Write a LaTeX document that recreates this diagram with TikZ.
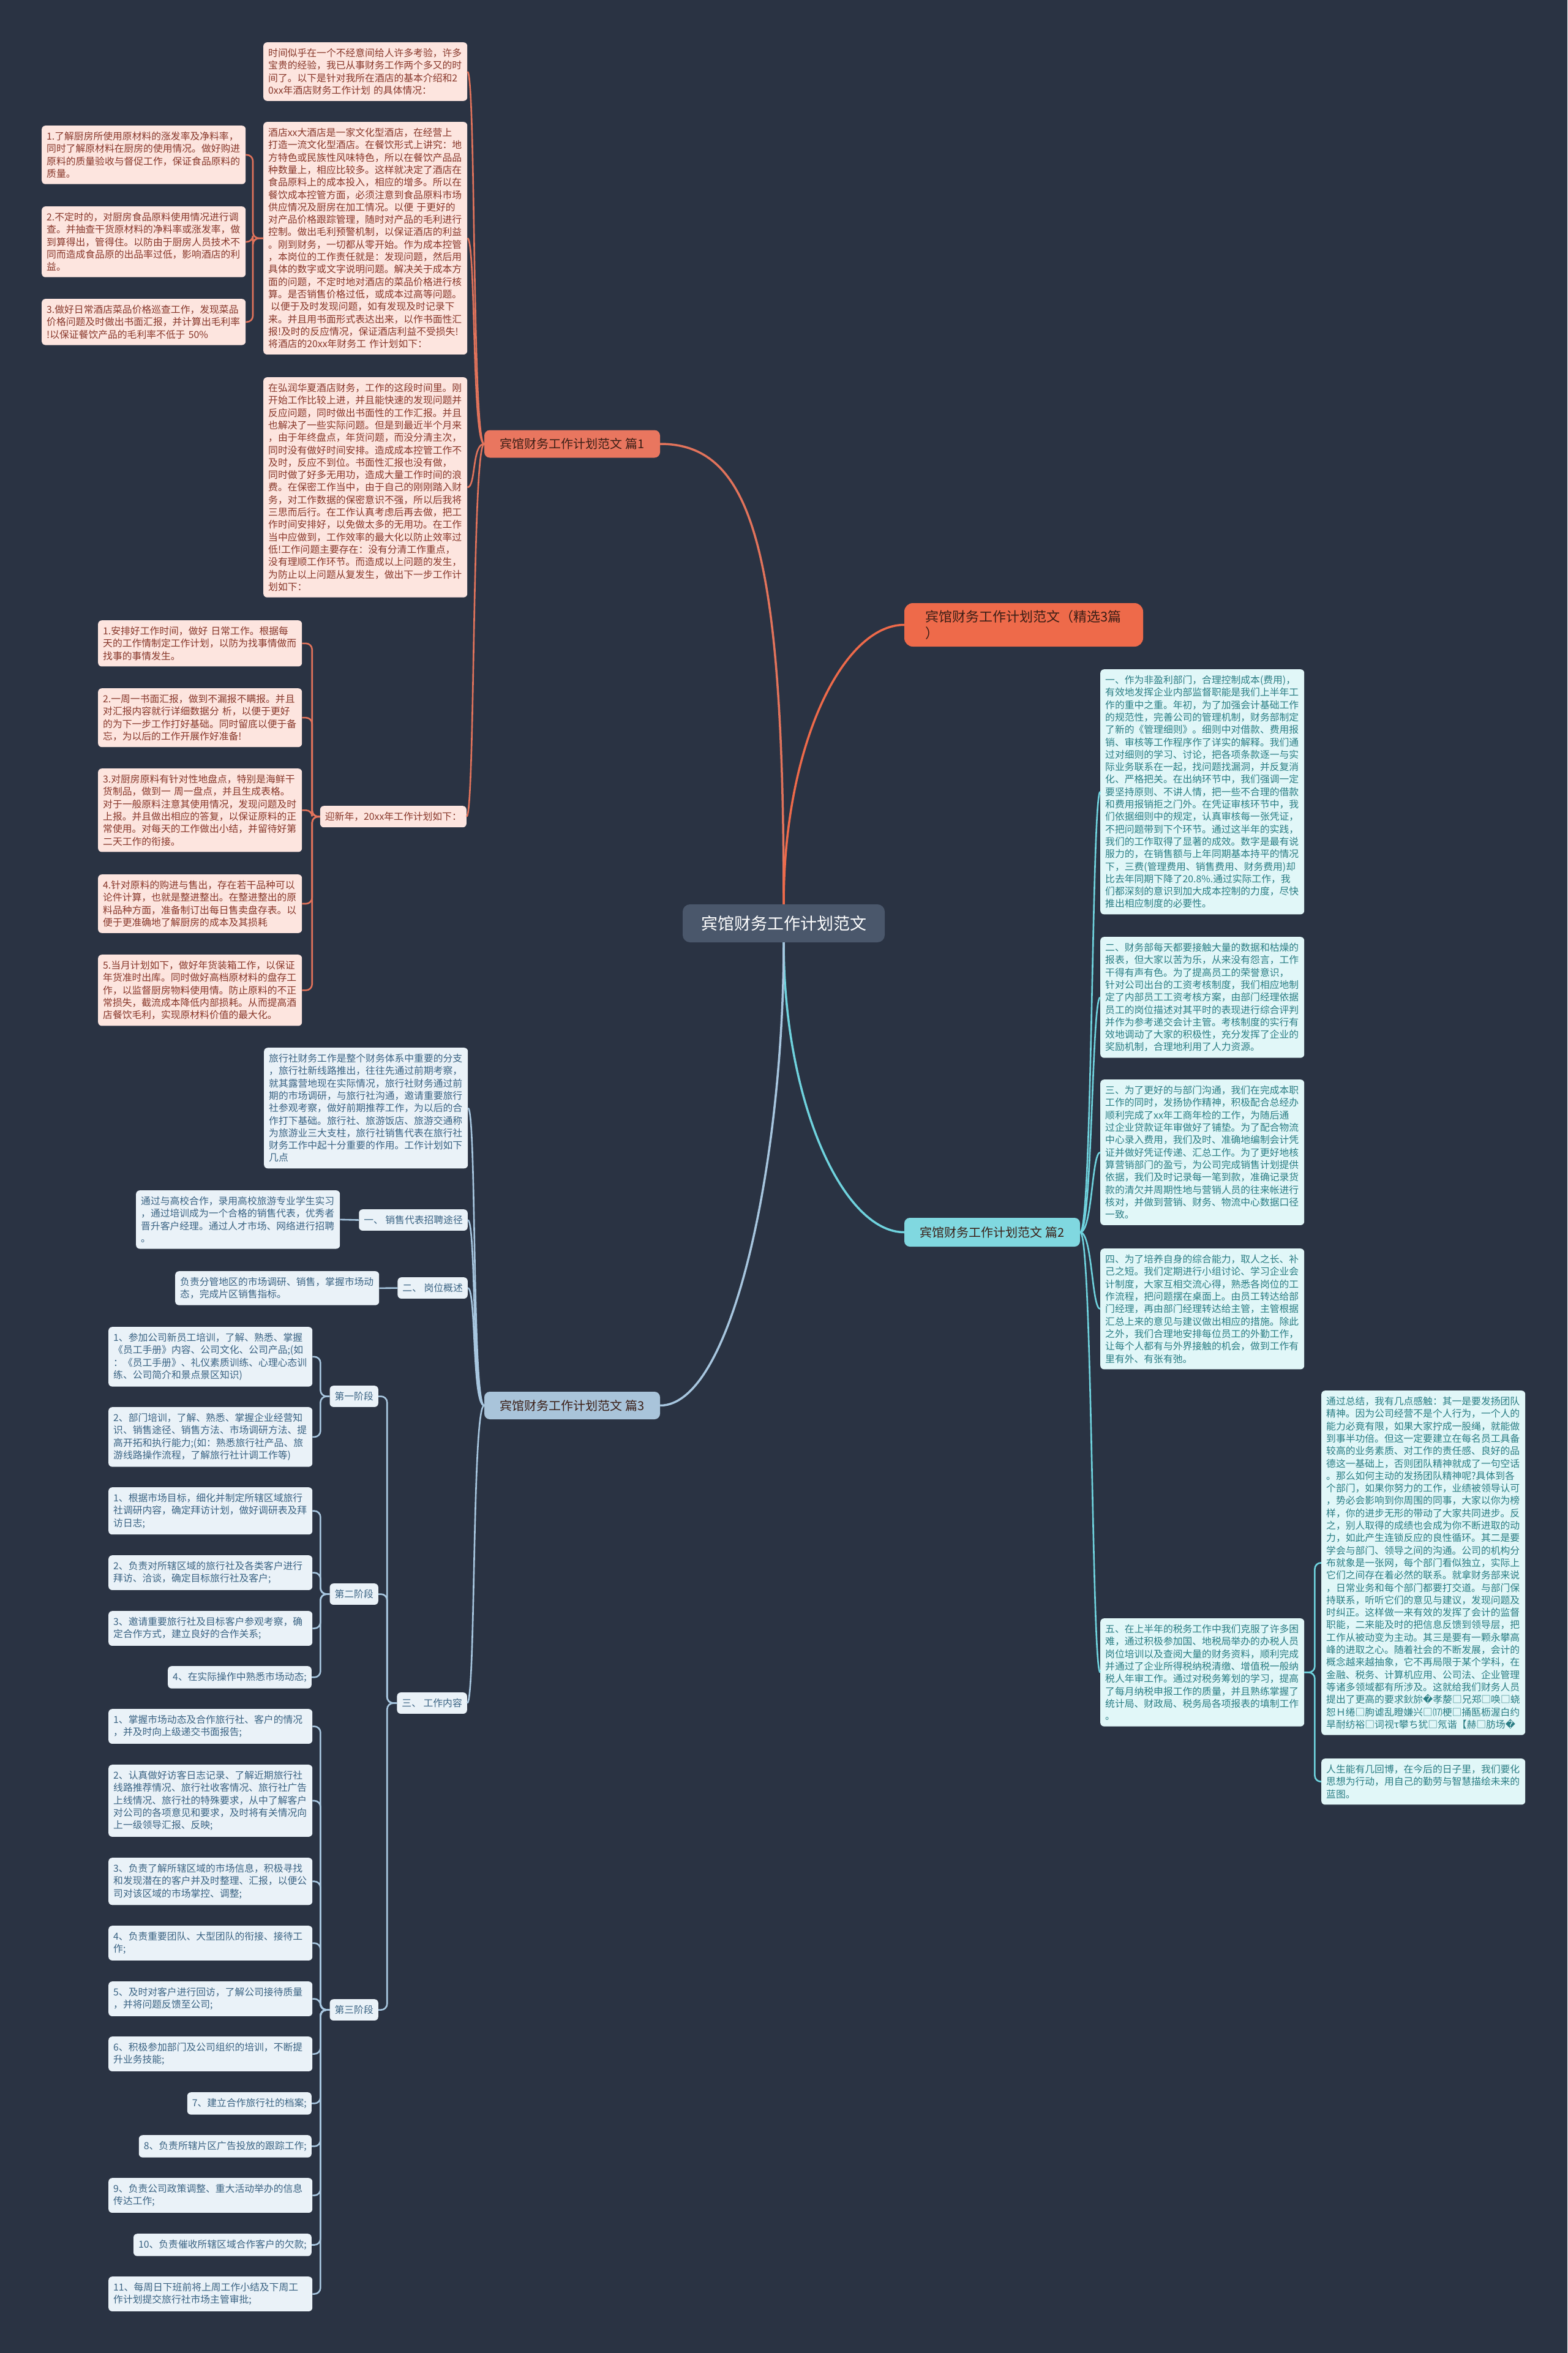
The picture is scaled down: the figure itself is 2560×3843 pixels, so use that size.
\documentclass[tikz,border=0pt]{standalone}
\usepackage{fontspec}
\setmainfont{Noto Sans CJK SC}
\newfontfamily\djv{DejaVu Sans}
\definecolor{bgnavy}{HTML}{2A3343}
\definecolor{hubfill}{HTML}{4A576B}
\definecolor{redtopic}{HTML}{E9765F}
\definecolor{orangetopic}{HTML}{EE6A4A}
\definecolor{cyantopic}{HTML}{80D8E0}
\definecolor{bluetopic}{HTML}{A9C4DA}
\definecolor{redfill}{HTML}{FDE5DF}
\definecolor{redtext}{HTML}{88372A}
\definecolor{redline}{HTML}{E2735B}
\definecolor{cyanfill}{HTML}{E1F7F8}
\definecolor{cyantext}{HTML}{2A7D84}
\definecolor{cyanline}{HTML}{6FD3DE}
\definecolor{bluefill}{HTML}{EAF2F8}
\definecolor{bluetext}{HTML}{3A6383}
\definecolor{blueline}{HTML}{A7C6DF}
\definecolor{topictext}{HTML}{3A1E16}
\begin{document}
\begin{tikzpicture}[x=1pt, y=-1pt,
    leafbox/.style={rounded corners=6pt, inner xsep=8pt, inner ysep=10pt, align=left, font=\fontsize{15.8}{20.3}\selectfont},
    widebox/.style={text width=317pt},
    redleaf/.style={leafbox, fill=redfill, text=redtext},
    cyanleaf/.style={leafbox, fill=cyanfill, text=cyantext},
    blueleaf/.style={leafbox, fill=bluefill, text=bluetext},
    topic/.style={rounded corners=9pt, align=center, minimum width=287pt, minimum height=45pt, font=\fontsize{20}{24}\selectfont},
    redlink/.style={draw=redline, line width=2.6pt},
    cyanlink/.style={draw=cyanline, line width=2.6pt},
    bluelink/.style={draw=blueline, line width=2.6pt}]
    % Background
    \fill[bgnavy] (0,0) rectangle (2560,3843);
    \useasboundingbox (0,0) rectangle (2560,3843);

    % Centre and main topics
    \node[rounded corners=12pt, fill=hubfill, text=white, minimum width=330pt, minimum height=62pt, font=\fontsize{27}{32}\selectfont] (hub) at (1280,1508) {宾馆财务工作计划范文};
    \node[topic, fill=redtopic, text=topictext] (part1) at (934.5,725) {宾馆财务工作计划范文 篇1};
    \node[rounded corners=14pt, fill=orangetopic, text=topictext, align=left, text width=322pt, minimum width=390pt, minimum height=71pt, font=\fontsize{22}{27}\selectfont] (title) at (1672,1020.5) {宾馆财务工作计划范文（精选3篇\\）};
    \node[topic, fill=cyantopic, text=topictext, minimum height=47pt] (part2) at (1620.5,2012.5) {宾馆财务工作计划范文 篇2};
    \node[topic, fill=bluetopic, text=topictext] (part3) at (934.5,2295.5) {宾馆财务工作计划范文 篇3};

    \draw[redlink, line width=3.5pt] (hub.north) .. controls +(0,-580) and +(150,0) .. (part1.east);
    \draw[draw=orangetopic, line width=3.5pt] (hub.north) .. controls +(0,-260) and +(-100,0) .. (title.west);
    \draw[cyanlink, line width=3.5pt] (hub.south) .. controls +(0,260) and +(-100,0) .. (part2.west);
    \draw[bluelink, line width=3.5pt] (hub.south) .. controls +(0,350) and +(120,0) .. (part3.east);

    % Part 1
    \node[redleaf, widebox, anchor=north west] (introA) at (430,69) {时间似乎在一个不经意间给人许多考验，许多\\宝贵的经验，我已从事财务工作两个多又的时\\间了。以下是针对我所在酒店的基本介绍和2\\0xx年酒店财务工作计划 的具体情况：};
    \node[redleaf, widebox, anchor=north west] (hotelB) at (430,199) {酒店xx大酒店是一家文化型酒店，在经营上\\打造一流文化型酒店。在餐饮形式上讲究：地\\方特色或民族性风味特色，所以在餐饮产品品\\种数量上，相应比较多。这样就决定了酒店在\\食品原料上的成本投入，相应的增多。所以在\\餐饮成本控管方面，必须注意到食品原料市场\\供应情况及厨房在加工情况。以便 于更好的\\对产品价格跟踪管理，随时对产品的毛利进行\\控制。做出毛利预警机制，以保证酒店的利益\\。刚到财务，一切都从零开始。作为成本控管\\，本岗位的工作责任就是：发现问题，然后用\\具体的数字或文字说明问题。解决关于成本方\\面的问题，不定时地对酒店的菜品价格进行核\\算。是否销售价格过低，或成本过高等问题。\\\hspace*{4pt}以便于及时发现问题，如有发现及时记录下\\来。并且用书面形式表达出来，以作书面性汇\\报!及时的反应情况，保证酒店利益不受损失!\\将酒店的20xx年财务工 作计划如下：};
    \node[redleaf, widebox, anchor=north west] (hotelB1) at (68,205) {1.了解厨房所使用原材料的涨发率及净料率，\\同时了解原材料在厨房的使用情况。做好购进\\原料的质量验收与督促工作，保证食品原料的\\质量。};
    \node[redleaf, widebox, anchor=north west] (hotelB2) at (68,337) {2.不定时的，对厨房食品原料使用情况进行调\\查。并抽查干货原材料的净料率或涨发率，做\\到算得出，管得住。以防由于厨房人员技术不\\同而造成食品原的出品率过低，影响酒店的利\\益。};
    \node[redleaf, widebox, anchor=north west] (hotelB3) at (68,488) {3.做好日常酒店菜品价格巡查工作，发现菜品\\价格问题及时做出书面汇报，并计算出毛利率\\!以保证餐饮产品的毛利率不低于 50\%};
    \node[redleaf, widebox, anchor=north west] (reviewC) at (430,616) {在弘润华夏酒店财务，工作的这段时间里。刚\\开始工作比较上进，并且能快速的发现问题并\\反应问题，同时做出书面性的工作汇报。并且\\也解决了一些实际问题。但是到最近半个月来\\，由于年终盘点，年货问题，而没分清主次，\\同时没有做好时间安排。造成成本控管工作不\\及时，反应不到位。书面性汇报也没有做，\\同时做了好多无用功，造成大量工作时间的浪\\费。在保密工作当中，由于自己的刚刚踏入财\\务，对工作数据的保密意识不强，所以后我将\\三思而后行。在工作认真考虑后再去做，把工\\作时间安排好，以免做太多的无用功。在工作\\当中应做到，工作效率的最大化以防止效率过\\低!工作问题主要存在：没有分清工作重点，\\没有理顺工作环节。而造成以上问题的发生，\\为防止以上问题从复发生，做出下一步工作计\\划如下：};
    \node[redleaf, anchor=north east] (planD) at (762,1316) {迎新年，20xx年工作计划如下：};
    \node[redleaf, widebox, anchor=north west] (planD1) at (160,1013) {1.安排好工作时间，做好 日常工作。根据每\\天的工作情制定工作计划，以防为找事情做而\\找事的事情发生。};
    \node[redleaf, widebox, anchor=north west] (planD2) at (160,1124) {2.一周一书面汇报，做到不漏报不瞒报。并且\\对汇报内容就行详细数据分 析，以便于更好\\的为下一步工作打好基础。同时留底以便于备\\忘，为以后的工作开展作好准备!};
    \node[redleaf, widebox, anchor=north west] (planD3) at (160,1255) {3.对厨房原料有针对性地盘点，特别是海鲜干\\货制品，做到一 周一盘点，并且生成表格。\\对于一般原料注意其使用情况，发现问题及时\\上报。并且做出相应的答复，以保证原料的正\\常使用。对每天的工作做出小结，并留待好第\\二天工作的衔接。};
    \node[redleaf, widebox, anchor=north west] (planD4) at (160,1428) {4.针对原料的购进与售出，存在若干品种可以\\论件计算，也就是整进整出。在整进整出的原\\料品种方面，准备制订出每日售卖盘存表。以\\便于更准确地了解厨房的成本及其损耗};
    \node[redleaf, widebox, anchor=north west] (planD5) at (160,1559) {5.当月计划如下，做好年货装箱工作，以保证\\年货准时出库。同时做好高档原材料的盘存工\\作，以监督厨房物料使用情。防止原料的不正\\常损失，截流成本降低内部损耗。从而提高酒\\店餐饮毛利，实现原材料价值的最大化。};

    \draw[redlink] (part1.west) .. controls +(-20,0) and +(14,0) .. (introA.east);
    \draw[redlink] (part1.west) .. controls +(-20,0) and +(14,0) .. (hotelB.east);
    \draw[redlink] (part1.west) .. controls +(-20,0) and +(14,0) .. (reviewC.east);
    \draw[redlink] (part1.west) .. controls +(-20,0) and +(14,0) .. (planD.east);
    \draw[redlink, rounded corners=10pt] (hotelB.west) -- ++(-17,0) |- (hotelB1.east);
    \draw[redlink, rounded corners=10pt] (hotelB.west) -- ++(-17,0) |- (hotelB2.east);
    \draw[redlink, rounded corners=10pt] (hotelB.west) -- ++(-17,0) |- (hotelB3.east);
    \draw[redlink, rounded corners=10pt] (planD.west) -- ++(-13,0) |- (planD1.east);
    \draw[redlink, rounded corners=10pt] (planD.west) -- ++(-13,0) |- (planD2.east);
    \draw[redlink, rounded corners=10pt] (planD.west) -- ++(-13,0) |- (planD3.east);
    \draw[redlink, rounded corners=10pt] (planD.west) -- ++(-13,0) |- (planD4.east);
    \draw[redlink, rounded corners=10pt] (planD.west) -- ++(-13,0) |- (planD5.east);

    % Part 2
    \node[cyanleaf, widebox, anchor=north west] (costE1) at (1797,1093) {一、作为非盈利部门，合理控制成本(费用)，\\有效地发挥企业内部监督职能是我们上半年工\\作的重中之重。年初，为了加强会计基础工作\\的规范性，完善公司的管理机制，财务部制定\\了新的《管理细则》。细则中对借款、费用报\\销、审核等工作程序作了详实的解释。我们通\\过对细则的学习、讨论，把各项条款逐一与实\\际业务联系在一起，找问题找漏洞，并反复消\\化、严格把关。在出纳环节中，我们强调一定\\要坚持原则、不讲人情，把一些不合理的借款\\和费用报销拒之门外。在凭证审核环节中，我\\们依据细则中的规定，认真审核每一张凭证，\\不把问题带到下个环节。通过这半年的实践，\\我们的工作取得了显著的成效。数字是最有说\\服力的，在销售额与上年同期基本持平的情况\\下，三费(管理费用、销售费用、财务费用)却\\比去年同期下降了20.8\%.通过实际工作，我\\们都深刻的意识到加大成本控制的力度，尽快\\推出相应制度的必要性。};
    \node[cyanleaf, widebox, anchor=north west] (staffE2) at (1797,1530) {二、财务部每天都要接触大量的数据和枯燥的\\报表，但大家以苦为乐，从来没有怨言，工作\\干得有声有色。为了提高员工的荣誉意识，\\针对公司出台的工资考核制度，我们相应地制\\定了内部员工工资考核方案，由部门经理依据\\员工的岗位描述对其平时的表现进行综合评判\\并作为参考递交会计主管。考核制度的实行有\\效地调动了大家的积极性，充分发挥了企业的\\奖励机制，合理地利用了人力资源。};
    \node[cyanleaf, widebox, anchor=north west] (teamE3) at (1797,1763) {三、为了更好的与部门沟通，我们在完成本职\\工作的同时，发扬协作精神，积极配合总经办\\顺利完成了xx年工商年检的工作，为随后通\\过企业贷款证年审做好了铺垫。为了配合物流\\中心录入费用，我们及时、准确地编制会计凭\\证并做好凭证传递、汇总工作。为了更好地核\\算营销部门的盈亏，为公司完成销售计划提供\\依据，我们及时记录每一笔到款，准确记录货\\款的清欠并周期性地与营销人员的往来帐进行\\核对，并做到营销、财务、物流中心数据口径\\一致。};
    \node[cyanleaf, widebox, anchor=north west] (studyE4) at (1797,2039) {四、为了培养自身的综合能力，取人之长、补\\己之短。我们定期进行小组讨论、学习企业会\\计制度，大家互相交流心得，熟悉各岗位的工\\作流程，把问题摆在桌面上。由员工转达给部\\门经理，再由部门经理转达给主管，主管根据\\汇总上来的意见与建议做出相应的措施。除此\\之外，我们合理地安排每位员工的外勤工作，\\让每个人都有与外界接触的机会，做到工作有\\里有外、有张有弛。};
    \node[cyanleaf, widebox, anchor=north west] (taxE5) at (1797,2643) {五、在上半年的税务工作中我们克服了许多困\\难，通过积极参加国、地税局举办的办税人员\\岗位培训以及查阅大量的财务资料，顺利完成\\并通过了企业所得税纳税清缴、增值税一般纳\\税人年审工作。通过对税务筹划的学习，提高\\了每月纳税申报工作的质量，并且熟练掌握了\\统计局、财政局、税务局各项报表的填制工作\\。};
    \node[cyanleaf, widebox, anchor=north west] (sumR1) at (2158,2271) {通过总结，我有几点感触：其一是要发扬团队\\精神。因为公司经营不是个人行为，一个人的\\能力必竟有限，如果大家拧成一股绳，就能做\\到事半功倍。但这一定要建立在每名员工具备\\较高的业务素质、对工作的责任感、良好的品\\德这一基础上，否则团队精神就成了一句空话\\。那么如何主动的发扬团队精神呢?具体到各\\个部门，如果你努力的工作，业绩被领导认可\\，势必会影响到你周围的同事，大家以你为榜\\样，你的进步无形的带动了大家共同进步。反\\之，别人取得的成绩也会成为你不断进取的动\\力，如此产生连锁反应的良性循环。其二是要\\学会与部门、领导之间的沟通。公司的机构分\\布就象是一张网，每个部门看似独立，实际上\\它们之间存在着必然的联系。就拿财务部来说\\，日常业务和每个部门都要打交道。与部门保\\持联系，听听它们的意见与建议，发现问题及\\时纠正。这样做一来有效的发挥了会计的监督\\职能，二来能及时的把信息反馈到领导层，把\\工作从被动变为主动。其三是要有一颗永攀高\\峰的进取之心。随着社会的不断发展，会计的\\概念越来越抽象，它不再局限于某个学科，在\\金融、税务、计算机应用、公司法、企业管理\\等诸多领域都有所涉及。这就给我们财务人员\\提出了更高的要求鈥旀{\djv �}孝嫠□兄郑□唤□蛲\\恕Ｈ绻□朐谑乱瞪嫌兴□⒄梗□捅匦枥渥白约\\旱耐纺裕□词视τ攀ち犹□氖谐【赫□肪场{\djv �}};
    \node[cyanleaf, widebox, anchor=north west] (lifeR2) at (2158,2872) {人生能有几回博，在今后的日子里，我们要化\\思想为行动，用自己的勤劳与智慧描绘未来的\\蓝图。};

    \draw[cyanlink] (part2.east) .. controls +(20,0) and +(-14,0) .. (costE1.west);
    \draw[cyanlink] (part2.east) .. controls +(20,0) and +(-14,0) .. (staffE2.west);
    \draw[cyanlink] (part2.east) .. controls +(20,0) and +(-14,0) .. (teamE3.west);
    \draw[cyanlink] (part2.east) .. controls +(20,0) and +(-14,0) .. (studyE4.west);
    \draw[cyanlink] (part2.east) .. controls +(20,0) and +(-14,0) .. (taxE5.west);
    \draw[cyanlink, rounded corners=10pt] (taxE5.east) -- ++(17,0) |- (sumR1.west);
    \draw[cyanlink, rounded corners=10pt] (taxE5.east) -- ++(17,0) |- (lifeR2.west);

    % Part 3
    \node[blueleaf, widebox, anchor=north west] (travelT) at (431,1711) {旅行社财务工作是整个财务体系中重要的分支\\，旅行社新线路推出，往往先通过前期考察，\\就其露营地现在实际情况，旅行社财务通过前\\期的市场调研，与旅行社沟通，邀请重要旅行\\社参观考察，做好前期推荐工作，为以后的合\\作打下基础。旅行社、旅游饭店、旅游交通称\\为旅游业三大支柱，旅行社销售代表在旅行社\\财务工作中起十分重要的作用。工作计划如下\\几点};
    \node[blueleaf, anchor=north east] (hireS) at (764,1975) {一、 销售代表招聘途径};
    \node[blueleaf, widebox, anchor=north west] (hireS1) at (222,1944) {通过与高校合作，录用高校旅游专业学生实习\\，通过培训成为一个合格的销售代表，优秀者\\晋升客户经理。通过人才市场、网络进行招聘\\。};
    \node[blueleaf, anchor=north east] (postS) at (764,2086) {二、 岗位概述};
    \node[blueleaf, widebox, anchor=north west] (postS1) at (286,2076) {负责分管地区的市场调研、销售，掌握市场动\\态，完成片区销售指标。};
    \node[blueleaf, anchor=north east] (workW) at (763,2764) {三、 工作内容};

    \node[blueleaf, anchor=north east] (phase1) at (618,2263) {第一阶段};
    \node[blueleaf, widebox, anchor=north west] (p1a) at (177,2167) {1、参加公司新员工培训，了解、熟悉、掌握\\《员工手册》内容、公司文化、公司产品;(如\\：《员工手册》、礼仪素质训练、心理心态训\\练、公司简介和景点景区知识)};
    \node[blueleaf, widebox, anchor=north west] (p1b) at (177,2298) {2、部门培训，了解、熟悉、掌握企业经营知\\识、销售途径、销售方法、市场调研方法、提\\高开拓和执行能力;(如：熟悉旅行社产品、旅\\游线路操作流程，了解旅行社计调工作等)};

    \node[blueleaf, anchor=north east] (phase2) at (618,2586) {第二阶段};
    \node[blueleaf, widebox, anchor=north west] (p2a) at (177,2429) {1、根据市场目标，细化并制定所辖区域旅行\\社调研内容，确定拜访计划，做好调研表及拜\\访日志;};
    \node[blueleaf, widebox, anchor=north west] (p2b) at (177,2540) {2、负责对所辖区域的旅行社及各类客户进行\\拜访、洽谈，确定目标旅行社及客户;};
    \node[blueleaf, widebox, anchor=north west] (p2c) at (177,2631) {3、邀请重要旅行社及目标客户参观考察，确\\定合作方式，建立良好的合作关系;};
    \node[blueleaf, anchor=north east] (p2d) at (509,2721) {4、在实际操作中熟悉市场动态;};

    \node[blueleaf, anchor=north east] (phase3) at (618,3265) {第三阶段};
    \node[blueleaf, widebox, anchor=north west] (p3a) at (177,2791) {1、掌握市场动态及合作旅行社、客户的情况\\，并及时向上级递交书面报告;};
    \node[blueleaf, widebox, anchor=north west] (p3b) at (177,2882) {2、认真做好访客日志记录、了解近期旅行社\\线路推荐情况、旅行社收客情况、旅行社广告\\上线情况、旅行社的特殊要求，从中了解客户\\对公司的各项意见和要求，及时将有关情况向\\上一级领导汇报、反映;};
    \node[blueleaf, widebox, anchor=north west] (p3c) at (177,3034) {3、负责了解所辖区域的市场信息，积极寻找\\和发现潜在的客户并及时整理、汇报，以便公\\司对该区域的市场掌控、调整;};
    \node[blueleaf, widebox, anchor=north west] (p3d) at (177,3145) {4、负责重要团队、大型团队的衔接、接待工\\作;};
    \node[blueleaf, widebox, anchor=north west] (p3e) at (177,3236) {5、及时对客户进行回访，了解公司接待质量\\，并将问题反馈至公司;};
    \node[blueleaf, widebox, anchor=north west] (p3f) at (177,3326) {6、积极参加部门及公司组织的培训，不断提\\升业务技能;};
    \node[blueleaf, anchor=north east] (p3g) at (509,3417) {7、建立合作旅行社的档案;};
    \node[blueleaf, anchor=north east] (p3h) at (509,3487) {8、负责所辖片区广告投放的跟踪工作;};
    \node[blueleaf, widebox, anchor=north west] (p3i) at (177,3557) {9、负责公司政策调整、重大活动举办的信息\\传达工作;};
    \node[blueleaf, anchor=north east] (p3j) at (509,3648) {10、负责催收所辖区域合作客户的欠款;};
    \node[blueleaf, widebox, anchor=north west] (p3k) at (177,3718) {11、每周日下班前将上周工作小结及下周工\\作计划提交旅行社市场主管审批;};

    \draw[bluelink] (part3.west) .. controls +(-20,0) and +(14,0) .. (travelT.east);
    \draw[bluelink] (part3.west) .. controls +(-20,0) and +(14,0) .. (hireS.east);
    \draw[bluelink] (part3.west) .. controls +(-20,0) and +(14,0) .. (postS.east);
    \draw[bluelink] (part3.west) .. controls +(-20,0) and +(14,0) .. (workW.east);
    \draw[bluelink] (hireS.west) -- (hireS1.east);
    \draw[bluelink] (postS.west) -- (postS1.east);
    \draw[bluelink, rounded corners=10pt] (workW.west) -- ++(-16,0) |- (phase1.east);
    \draw[bluelink, rounded corners=10pt] (workW.west) -- ++(-16,0) |- (phase2.east);
    \draw[bluelink, rounded corners=10pt] (workW.west) -- ++(-16,0) |- (phase3.east);
    \draw[bluelink, rounded corners=10pt] (phase1.west) -- ++(-15,0) |- (p1a.east);
    \draw[bluelink, rounded corners=10pt] (phase1.west) -- ++(-15,0) |- (p1b.east);
    \draw[bluelink, rounded corners=10pt] (phase2.west) -- ++(-15,0) |- (p2a.east);
    \draw[bluelink, rounded corners=10pt] (phase2.west) -- ++(-15,0) |- (p2b.east);
    \draw[bluelink, rounded corners=10pt] (phase2.west) -- ++(-15,0) |- (p2c.east);
    \draw[bluelink, rounded corners=10pt] (phase2.west) -- ++(-15,0) |- (p2d.east);
    \draw[bluelink, rounded corners=10pt] (phase3.west) -- ++(-15,0) |- (p3a.east);
    \draw[bluelink, rounded corners=10pt] (phase3.west) -- ++(-15,0) |- (p3b.east);
    \draw[bluelink, rounded corners=10pt] (phase3.west) -- ++(-15,0) |- (p3c.east);
    \draw[bluelink, rounded corners=10pt] (phase3.west) -- ++(-15,0) |- (p3d.east);
    \draw[bluelink, rounded corners=10pt] (phase3.west) -- ++(-15,0) |- (p3e.east);
    \draw[bluelink, rounded corners=10pt] (phase3.west) -- ++(-15,0) |- (p3f.east);
    \draw[bluelink, rounded corners=10pt] (phase3.west) -- ++(-15,0) |- (p3g.east);
    \draw[bluelink, rounded corners=10pt] (phase3.west) -- ++(-15,0) |- (p3h.east);
    \draw[bluelink, rounded corners=10pt] (phase3.west) -- ++(-15,0) |- (p3i.east);
    \draw[bluelink, rounded corners=10pt] (phase3.west) -- ++(-15,0) |- (p3j.east);
    \draw[bluelink, rounded corners=10pt] (phase3.west) -- ++(-15,0) |- (p3k.east);
\end{tikzpicture}
\end{document}
